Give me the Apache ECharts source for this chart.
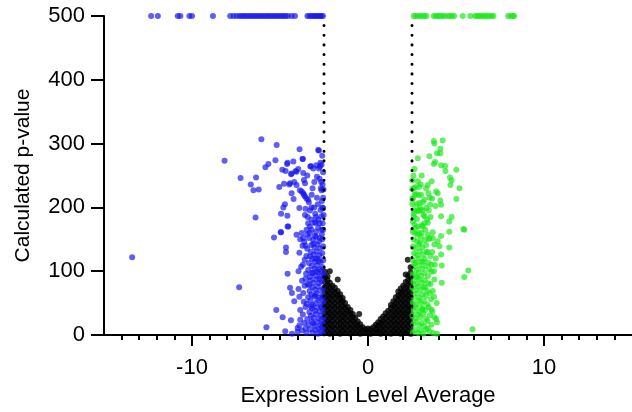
<!DOCTYPE html>
<html>
<head>
<meta charset="utf-8">
<script src="https://cdn.jsdelivr.net/npm/echarts@6/dist/echarts.min.js"></script>
<style>
  html, body { margin: 0; padding: 0; background: #fff; overflow: hidden; }
  #chart { width: 632px; height: 412px; }
</style>
</head>
<body>
<div id="chart"></div>
<script>
// Volcano plot: expression level average vs calculated p-value (capped at 500)
const CAP = 500;
const THRESHOLD = 2.5;

const xMajorTicks = [-10, 0, 10];
const xMinorTicks = [-14, -13, -12, -11, -10, -9, -8, -7, -6, -5, -4, -3, -2, -1, 0, 1, 2, 3, 4, 5, 6, 7, 8, 9, 10, 11, 12, 13, 14];
const yTicks = [0, 100, 200, 300, 400, 500];

// Down-regulated genes whose p-value hit the cap
const blueCapX = [-12.32, -11.94, -10.81, -10.66, -10.15, -10.0, -8.81, -7.83, -7.64, -7.47,
  -7.3, -7.18, -7.05, -6.93, -6.8, -6.68, -6.55, -6.43, -6.3, -6.18, -6.05, -5.93, -5.8,
  -5.68, -5.55, -5.43, -5.3, -5.18, -5.05, -4.93, -4.8, -4.68, -4.55, -4.34, -4.15,
  -3.44, -3.32, -3.21, -3.1, -3.02, -2.92, -2.83, -2.74, -2.64, -2.56];

// Up-regulated genes whose p-value hit the cap
const greenCapX = [2.6, 2.72, 2.84, 2.96, 3.08, 3.2, 3.32, 3.74, 3.86, 3.98, 4.1, 4.22, 4.34,
  4.53, 4.65, 4.78, 4.9, 5.38, 5.81, 6.07, 6.19, 6.31, 6.43, 6.55, 6.67, 6.79, 6.91, 7.03,
  7.13, 7.96, 8.1, 8.24, 8.3];

// Down-regulated genes (x, p-value)
const bluePoints = [
  [-13.4, 122], [-8.15, 273], [-7.32, 75], [-7.24, 246], [-6.66, 236], [-6.36, 247], [-6.51, 227],
  [-6.21, 228], [-6.39, 184], [-6.06, 307], [-5.19, 298], [-5.77, 12], [-5.34, 153], [-5.21, 39],
  [-4.85, 28], [-4.7, 6], [-4.57, 96], [-4.66, 137], [-4.66, 130], [-4.43, 74], [-4.32, 66],
  [-4.19, 53], [-4.38, 23], [-4.0, 11], [-4.0, 5], [-4.32, 2], [-4.94, 161], [-4.94, 190],
  [-4.81, 200], [-4.72, 205], [-4.58, 187], [-4.57, 170], [-5.04, 232], [-4.77, 237], [-5.26, 274],
  [-5.83, 263], [-5.66, 268], [-4.87, 259], [-4.68, 257], [-4.6, 268], [-4.57, 270], [-4.24, 272],
  [-3.89, 291], [-3.7, 276], [-4.37, 252], [-4.07, 256], [-3.96, 260], [-4.19, 240], [-4.47, 236],
  [-4.34, 222], [-4.23, 213], [-3.9, 199], [-3.77, 225], [-3.64, 220], [-3.49, 214], [-3.36, 208],
  [-3.21, 200], [-3.06, 200], [-2.83, 290], [-3.28, 264], [-3.11, 261], [-2.93, 266], [-2.73, 264],
  [-2.68, 230], [-2.53, 228], [-3.58, 188], [-3.43, 185], [-3.21, 181], [-2.98, 176], [-3.21, 165],
  [-2.83, 168], [-2.64, 165], [-4.34, 253], [-4.11, 257], [-3.68, 254], [-3.72, 276], [-3.24, 265],
  [-2.79, 261], [-2.64, 267], [-4.43, 238], [-4.06, 235], [-3.87, 227], [-3.64, 243], [-3.58, 238],
  [-3.68, 222], [-3.58, 217], [-3.4, 212], [-4.96, 161], [-4.06, 157], [-3.77, 160], [-3.68, 152],
  [-3.49, 165], [-3.3, 170], [-3.06, 176], [-2.83, 181], [-2.64, 186], [-2.55, 199], [-2.64, 227],
  [-2.55, 165], [-3.02, 155], [-2.73, 152], [-2.79, 289], [-4.53, 170],
  [-2.58, 175], [-2.7, 196], [-2.62, 210], [-2.75, 245], [-2.55, 255], [-2.66, 240], [-2.9, 215],
  [-3.0, 190], [-2.6, 281], [-2.85, 205], [-3.3, 195], [-3.15, 230], [-2.52, 188],
  [-2.55, 215], [-2.7, 270], [-2.58, 236], [-2.9, 248], [-3.05, 240], [-3.45, 250], [-3.2, 220],
  [-2.6, 200], [-2.95, 185], [-2.75, 175], [-3.4, 175], [-3.55, 198],
  [-2.55, 3], [-2.7, 6], [-2.85, 2], [-3.0, 8], [-3.15, 4], [-3.3, 9], [-3.5, 3], [-3.75, 7], [-2.6, 12],
  [-2.58, 18], [-2.72, 15], [-2.9, 20], [-3.05, 14], [-3.2, 21], [-3.38, 16], [-3.62, 19], [-3.9, 15],
  [-2.52, 28], [-2.66, 31], [-2.8, 26], [-2.96, 33], [-3.1, 27], [-3.25, 30], [-3.45, 25], [-3.7, 32],
  [-2.57, 40], [-2.74, 37], [-2.88, 43], [-3.02, 38], [-3.18, 42], [-3.33, 36], [-3.55, 44], [-3.85, 39],
  [-2.53, 52], [-2.68, 48], [-2.82, 55], [-2.98, 50], [-3.14, 47], [-3.28, 54], [-3.48, 49],
  [-2.6, 62], [-2.76, 58], [-2.92, 65], [-3.06, 60], [-3.22, 63], [-3.4, 59], [-3.68, 66],
  [-2.55, 73], [-2.7, 70], [-2.86, 76], [-3.0, 71], [-3.16, 75], [-3.32, 69], [-3.6, 77], [-3.95, 72],
  [-2.62, 84], [-2.78, 81], [-2.94, 87], [-3.1, 82], [-3.26, 86], [-3.44, 80], [-3.75, 85],
  [-2.52, 95], [-2.68, 92], [-2.84, 98], [-3.0, 93], [-3.15, 97], [-3.3, 91], [-3.52, 96],
  [-2.58, 106], [-2.74, 103], [-2.9, 109], [-3.05, 104], [-3.2, 108], [-3.4, 102], [-3.8, 107],
  [-2.54, 117], [-2.7, 114], [-2.86, 120], [-3.02, 115], [-3.18, 119], [-3.36, 113], [-3.6, 118],
  [-2.6, 128], [-2.76, 125], [-2.92, 131], [-3.08, 126], [-3.25, 130], [-3.5, 124], [-3.9, 129],
  [-2.55, 139], [-2.72, 136], [-2.88, 142], [-3.04, 137], [-3.22, 141], [-3.45, 135], [-3.72, 140],
  [-2.6, 150], [-2.78, 147], [-2.95, 154], [-3.12, 149], [-3.35, 152], [-3.62, 146],
  [-3.55, 10], [-3.85, 24], [-3.65, 52], [-3.9, 60], [-3.55, 88], [-3.95, 100], [-3.7, 110],
  [-3.55, 140], [-3.85, 150], [-3.45, 158], [-3.3, 160], [-2.95, 162], [-2.62, 158], [-2.8, 116],
  [-2.65, 100], [-2.75, 88], [-2.65, 44], [-2.8, 10], [-3.1, 18], [-3.25, 45], [-3.2, 97],
  [-3.3, 123], [-3.1, 143], [-2.98, 120], [-2.92, 100], [-3.35, 78], [-2.56, 60], [-2.65, 23],
  [-3.0, 62]
];

// Up-regulated genes (x, p-value)
const greenPoints = [
  [3.74, 304], [3.77, 300], [4.24, 305], [4.11, 292], [3.92, 285], [4.11, 285], [3.49, 280],
  [2.83, 277], [3.81, 271], [3.74, 268], [4.15, 266], [4.38, 265], [4.4, 257], [5.02, 259],
  [2.64, 260], [4.66, 247], [4.75, 242], [4.68, 235], [5.2, 230], [2.51, 242], [2.83, 241],
  [3.62, 241], [3.4, 235], [2.51, 229], [2.73, 221], [2.87, 219], [2.55, 214], [2.52, 213],
  [3.02, 220], [3.43, 222], [3.87, 225], [3.96, 222], [3.64, 214], [4.11, 211], [4.15, 204],
  [5.02, 213], [2.92, 207], [3.11, 208], [3.3, 199], [3.53, 204], [3.83, 202], [2.98, 196],
  [3.11, 195], [2.87, 194], [3.21, 186], [3.36, 181], [2.6, 186], [2.55, 178], [2.64, 173],
  [2.83, 170], [3.11, 170], [3.4, 176], [4.15, 186], [4.75, 185], [4.62, 178], [5.42, 166],
  [3.68, 161], [4.62, 162], [4.15, 155], [3.4, 157], [2.83, 157], [5.47, 165], [4.62, 137],
  [4.15, 126], [4.19, 109], [4.19, 82], [5.7, 101], [5.47, 91], [4.06, 139], [3.96, 147],
  [3.77, 142], [3.68, 152], [3.87, 25], [3.92, 20], [3.77, 87], [3.68, 69], [3.58, 56],
  [5.94, 9], [3.92, 2],
  [2.55, 162], [2.72, 168], [2.9, 160], [3.05, 172], [3.25, 165], [2.6, 190], [2.78, 182],
  [2.95, 200], [3.15, 188], [2.52, 205], [2.7, 232], [3.0, 236], [2.58, 250], [3.3, 230],
  [3.5, 215], [2.65, 220],
  [2.6, 230], [2.75, 205], [2.9, 232], [3.05, 250], [3.2, 212], [3.45, 195], [3.55, 185],
  [3.2, 175], [3.65, 130], [3.85, 120], [3.45, 150], [3.75, 100], [3.55, 80], [3.9, 50],
  [3.6, 40], [3.4, 10], [3.05, 160], [2.62, 196], [2.8, 195], [2.68, 160], [2.95, 145],
  [3.15, 115], [3.38, 130], [3.6, 110], [2.64, 112], [2.8, 90], [3.1, 40], [3.25, 75],
  [2.55, 4], [2.7, 8], [2.85, 3], [3.0, 7], [3.15, 2], [3.3, 9], [3.5, 5], [3.7, 3],
  [2.58, 17], [2.74, 21], [2.9, 15], [3.05, 19], [3.2, 14], [3.38, 22], [3.6, 16],
  [2.53, 30], [2.68, 26], [2.84, 32], [2.98, 28], [3.14, 33], [3.3, 25], [3.52, 31], [3.78, 28],
  [2.6, 38], [2.76, 43], [2.92, 36], [3.08, 41], [3.24, 39], [3.44, 44], [3.66, 37],
  [2.55, 51], [2.7, 47], [2.86, 54], [3.02, 49], [3.18, 53], [3.36, 48],
  [2.62, 60], [2.78, 65], [2.94, 58], [3.1, 63], [3.28, 61], [3.5, 66], [3.75, 60],
  [2.52, 74], [2.68, 70], [2.84, 76], [3.0, 71], [3.16, 75], [3.34, 69],
  [2.58, 84], [2.74, 80], [2.9, 87], [3.06, 82], [3.22, 86], [3.42, 81],
  [2.54, 95], [2.7, 92], [2.86, 98], [3.02, 93], [3.2, 97], [3.4, 92], [3.6, 99],
  [2.6, 106], [2.76, 102], [2.92, 109], [3.08, 104], [3.26, 108], [3.48, 103], [3.8, 110],
  [2.55, 117], [2.72, 114], [2.88, 120], [3.04, 115], [3.22, 119], [3.45, 113],
  [2.62, 128], [2.78, 125], [2.94, 131], [3.12, 126], [3.32, 130], [3.55, 124],
  [2.56, 139], [2.72, 136], [2.9, 142], [3.08, 137], [3.3, 141],
  [2.6, 150], [2.8, 147], [3.0, 154], [3.22, 149], [3.5, 152]
];

// Non-significant genes, listed column by column: [x, [p-values]]
const blackColumns = [
  [-2.45, [3, 11, 19, 27, 35, 43, 51, 59, 67, 75, 83, 91, 99]],
  [-2.3, [6, 14, 22, 30, 38, 46, 54, 62, 70, 78, 86, 92]],
  [-2.17, [2, 10, 18, 26, 34, 42, 50, 58, 66, 74, 82, 100]],
  [-2.02, [5, 13, 21, 29, 37, 45, 53, 61, 69, 77]],
  [-1.88, [3, 11, 19, 27, 35, 43, 51, 59, 67, 74]],
  [-1.72, [6, 14, 22, 30, 38, 46, 54, 62, 69, 87]],
  [-1.58, [2, 10, 18, 26, 34, 42, 50, 58, 64]],
  [-1.44, [5, 13, 21, 29, 37, 45, 53, 58]],
  [-1.3, [3, 11, 19, 27, 35, 43, 50]],
  [-1.15, [6, 14, 22, 30, 38, 44]],
  [-1.0, [2, 10, 18, 26, 34, 39]],
  [-0.86, [5, 13, 21, 28, 33]],
  [-0.72, [3, 11, 19, 27]],
  [-0.58, [6, 14, 21]],
  [-0.5, [33]],
  [-0.44, [2, 10, 17]],
  [-0.3, [5, 12]],
  [-0.15, [3, 9]],
  [0.0, [4, 10]],
  [0.15, [2, 9]],
  [0.3, [5, 12]],
  [0.47, [9]],
  [0.44, [3, 16]],
  [0.58, [6, 14, 20]],
  [0.72, [2, 10, 18, 25]],
  [0.86, [5, 13, 21, 29]],
  [1.0, [3, 11, 19, 27, 34]],
  [1.15, [6, 14, 22, 30, 38]],
  [1.3, [2, 10, 18, 26, 34, 42, 47]],
  [1.44, [5, 13, 21, 29, 37, 45, 53]],
  [1.58, [3, 11, 19, 27, 35, 43, 51, 59]],
  [1.72, [6, 14, 22, 30, 38, 46, 54, 62, 68]],
  [1.86, [2, 10, 18, 26, 34, 42, 50, 58, 66, 73]],
  [2.0, [5, 13, 21, 29, 37, 45, 53, 61, 69, 77]],
  [2.14, [3, 11, 19, 27, 35, 43, 51, 59, 67, 75, 83, 95]],
  [2.26, [118]],
  [2.28, [6, 14, 22, 30, 38, 46, 54, 62, 70, 78, 86, 93]],
  [2.42, [2, 10, 18, 26, 34, 42, 50, 58, 66, 74, 82, 90, 98, 106]]
];

const blackPoints = [];
blackColumns.forEach(([x, ys]) => ys.forEach(y => blackPoints.push([x, y])));

const FONT = 'Liberation Sans, Arial, sans-serif';

const chart = echarts.init(document.getElementById('chart'), null, { renderer: 'canvas' });

const scatterBase = {
  type: 'scatter',
  symbol: 'circle',
  symbolSize: 6,
  clip: false,
  animation: false
};

chart.setOption({
  animation: false,
  backgroundColor: '#ffffff',
  grid: { left: 104, top: 16, bottom: 76, width: 531 },
  xAxis: [
    {
      type: 'value',
      min: -15,
      max: 15,
      name: 'Expression Level Average',
      nameLocation: 'middle',
      nameGap: 50,
      nameTextStyle: { color: '#000', fontSize: 22, fontFamily: FONT },
      splitLine: { show: false },
      axisLine: { show: true, onZero: false, lineStyle: { color: '#000', width: 2 } },
      axisTick: { show: true, customValues: xMajorTicks, length: 11, lineStyle: { color: '#000', width: 2 } },
      axisLabel: { customValues: xMajorTicks, margin: 22, color: '#000', fontSize: 22, fontFamily: FONT }
    },
    {
      type: 'value',
      min: -15,
      max: 15,
      position: 'bottom',
      splitLine: { show: false },
      axisLine: { show: false, onZero: false },
      axisTick: { show: true, customValues: xMinorTicks, length: 5, lineStyle: { color: '#000', width: 2 } },
      axisLabel: { show: false }
    }
  ],
  yAxis: {
    type: 'value',
    min: 0,
    max: 500,
    interval: 100,
    name: 'Calculated p-value',
    nameLocation: 'middle',
    nameGap: 70,
    nameTextStyle: { color: '#000', fontSize: 21, fontFamily: FONT },
    splitLine: { show: false },
    axisLine: { show: true, onZero: false, lineStyle: { color: '#000', width: 2 } },
    axisTick: { show: true, customValues: yTicks, length: 13, lineStyle: { color: '#000', width: 2 } },
    axisLabel: { customValues: yTicks, margin: 19, color: '#000', fontSize: 22, fontFamily: FONT }
  },
  series: [
    Object.assign({}, scatterBase, {
      name: 'Not significant',
      data: blackPoints,
      itemStyle: { color: '#000000' },
      z: 2
    }),
    Object.assign({}, scatterBase, {
      name: 'Down',
      data: bluePoints.concat(blueCapX.map(x => [x, CAP])),
      itemStyle: { color: 'rgba(20,20,240,0.85)' },
      z: 3
    }),
    Object.assign({}, scatterBase, {
      name: 'Up',
      data: greenPoints.concat(greenCapX.map(x => [x, CAP])),
      itemStyle: { color: 'rgba(25,232,25,0.85)' },
      z: 3
    }),
    {
      type: 'line',
      name: 'Lower threshold',
      data: [[-THRESHOLD, 0], [-THRESHOLD, CAP]],
      symbol: 'none',
      silent: true,
      lineStyle: { color: '#000', width: 3, type: [0.1, 9.57], cap: 'round' },
      z: 5
    },
    {
      type: 'line',
      name: 'Upper threshold',
      data: [[THRESHOLD, 0], [THRESHOLD, CAP]],
      symbol: 'none',
      silent: true,
      lineStyle: { color: '#000', width: 3, type: [0.1, 9.57], cap: 'round' },
      z: 5
    }
  ]
});
</script>
</body>
</html>
